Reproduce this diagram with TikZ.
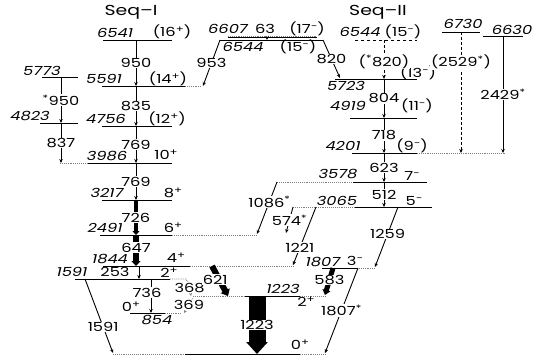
\documentclass[tikz,border=0pt]{standalone}
\usepackage{fontspec}
\setmainfont{Poppins}[FakeStretch=1.3]
\usetikzlibrary{arrows.meta}

% one level: name, y, x from, x to
\newcommand{\level}[4]{\coordinate (#1) at (0,#2); \draw[lev] (#3,#2) -- (#4,#2);}
% spin parity sign
\newcommand{\up}[1]{\raisebox{0.55ex}{\fontsize{9}{9}\selectfont #1}}

\tikzset{
  lev/.style={line width=0.9pt},
  levd/.style={gray,line width=0.9pt,densely dotted},
  tr/.style={line width=0.9pt,-{Stealth[length=4pt,width=3.5pt]}},
  trd/.style={tr,densely dashed},
  trs/.style={gray,line width=0.7pt,densely dotted,-{Stealth[length=3pt,width=3pt]}},
  lab/.style={fill=white,text=black,inner sep=0.6pt,font=\fontsize{12.5}{12.5}\selectfont},
  en/.style={inner sep=0pt,font=\fontsize{12.5}{12.5}\selectfont\itshape},
  jp/.style={inner sep=0pt,font=\fontsize{12.5}{12.5}\selectfont},
}

\begin{document}
\begin{tikzpicture}[x=1pt,y=-1pt]
  \useasboundingbox (0,0) rectangle (535,358);
  % columns
  \coordinate (cA) at (61,0);
  \coordinate (cI) at (136,0);
  \coordinate (cB) at (139,0);
  \coordinate (cC) at (151,0);
  \coordinate (cF) at (257,0);
  \coordinate (cG) at (267,0);
  \coordinate (cII) at (384,0);
  \coordinate (cD) at (461,0);
  \coordinate (cE) at (503,0);

  \node[jp,font=\fontsize{14.5}{14.5}\selectfont] (seqI) at (131,12) {Seq–I};
  \node[jp,font=\fontsize{14.5}{14.5}\selectfont] (seqII) at (378,12) {Seq–II};

  % Seq-I levels
  \level{l6541}{40}{103}{172}
  \level{l5591}{86}{102}{185} \draw[levd] (185,86) -- (202,86);
  \level{l5773}{77}{42}{78}
  \level{l4823}{123}{40}{78}
  \level{l4756}{126}{102}{172}
  \level{l3986}{163}{87}{172} \draw[levd] (60,163) -- (87,163);
  \level{l3217}{200}{102}{172}
  \level{l2491}{235}{100}{172} \draw[levd] (172,235) -- (257,235);
  \level{l1844}{266}{103}{190} \draw[levd] (190,266) -- (293,266);
  \level{l1591}{279}{75}{170} \draw[levd] (170,279) -- (186,279) -- (189,284);
  \level{l854}{313}{130}{165} \draw[levd] (165,313) -- (182,313);
  \level{l1223}{296}{245}{300} \draw[levd] (193,296) -- (245,296) (300,296) -- (325,296);
  \level{l0}{354}{185}{300} \draw[levd] (113,354) -- (185,354) (300,354) -- (325,354);

  % Seq-II levels
  \draw[levd] (228,36.5) -- (317,36.5);
  \level{l6607}{37.5}{228}{317}
  \level{l6544a}{40}{220}{323}
  \coordinate (l6544b) at (0,40); \draw[lev,dashed] (355,40) -- (417,40);
  \level{l6730}{32}{442}{480}
  \level{l6630}{36}{483}{523}
  \level{l5723}{79}{335}{417}
  \level{l4919}{118}{350}{417}
  \level{l4201}{153}{352}{417} \draw[levd] (417,153) -- (505,153);
  \level{l3578}{182}{353}{427} \draw[levd] (277,182) -- (353,182);
  \level{l3065}{207}{355}{432} \draw[levd] (293,207) -- (355,207);
  \level{l1807}{268}{322}{357} \draw[levd] (357,268) -- (375,268);

  % level energies
  \node[en] (e6541) at (115,33) {6541};
  \node[en] (e5591) at (104,79) {5591};
  \node[en] (e5773) at (42,71) {5773};
  \node[en] (e4823) at (30,116) {4823};
  \node[en] (e4756) at (106,119) {4756};
  \node[en] (e3986) at (107,156) {3986};
  \node[en] (e3217) at (107,193) {3217};
  \node[en] (e2491) at (105,228) {2491};
  \node[en] (e1844) at (110,259) {1844};
  \node[en] (e1591) at (72,272) {1591};
  \node[en] (e854) at (157,320) {854};
  \node[en] (e1223) at (283,289) {1223};
  \node[en] (e6607) at (228,29) {6607};
  \node[en] (e6544a) at (243,47) {6544};
  \node[en] (e6544b) at (360,32) {6544};
  \node[en] (e6730) at (463,24) {6730};
  \node[en] (e6630) at (512,30) {6630};
  \node[en] (e5723) at (346,86) {5723};
  \node[en] (e4919) at (348,106) {4919};
  \node[en] (e4201) at (343,146) {4201};
  \node[en] (e3578) at (338,174) {3578};
  \node[en] (e3065) at (337,201) {3065};
  \node[en] (e1807) at (323,262) {1807};

  % spins
  \node[jp] (j6541) at (172,32) {(16\up{+})};
  \node[jp] (j5591) at (168,79) {(14\up{+})};
  \node[jp] (j4756) at (167,119) {(12\up{+})};
  \node[jp] (j3986) at (166,155) {10\up{+}};
  \node[jp] (j3217) at (173,193) {8\up{+}};
  \node[jp] (j2491) at (173,228) {6\up{+}};
  \node[jp] (j1844) at (176,258) {4\up{+}};
  \node[jp] (j1591) at (169,273) {2\up{+}};
  \node[jp] (j854) at (131,307) {0\up{+}};
  \node[jp] (j1223) at (306,302) {2\up{+}};
  \node[jp] (j0) at (300,345) {0\up{+}};
  \node[jp] (j6607) at (307,29) {(17\up{−})};
  \node[jp] (j6544a) at (298,47) {(15\up{−})};
  \node[jp] (j6544b) at (403,32) {(15\up{−})};
  \node[jp] (j5723) at (418,73) {(13\up{−})};
  \node[jp] (j4919) at (417,106) {(11\up{−})};
  \node[jp] (j4201) at (412,146) {(9\up{−})};
  \node[jp] (j3578) at (412,176) {7\up{−}};
  \node[jp] (j3065) at (414,201) {5\up{−}};
  \node[jp] (j1807) at (355,261) {3\up{−}};
  \node[jp] (g63) at (265,29) {63};
  \node[jp] (g253) at (115,272) {253};

  % slanted transition ends
  \coordinate (a953) at (220,40);  \coordinate (b953) at (203,86);
  \coordinate (a820) at (323,40);  \coordinate (b820) at (340,78);
  \coordinate (a1086) at (277,182); \coordinate (b1086) at (257,234);
  \coordinate (a574) at (293,207); \coordinate (b574) at (286,233);
  \coordinate (a1221) at (316,207); \coordinate (b1221) at (293,265);
  \coordinate (a1259) at (398,207); \coordinate (b1259) at (375,267);
  \coordinate (a583) at (333,268); \coordinate (b583) at (325,295);
  \coordinate (a1807) at (358,268); \coordinate (b1807) at (325,353);
  \coordinate (a621) at (212,266); \coordinate (b621) at (228,296);
  \coordinate (a1591) at (85,279); \coordinate (b1591) at (113,353);
  \coordinate (a368) at (189,284); \coordinate (b368) at (191,296);
  \coordinate (a369) at (193,298); \coordinate (b369) at (184,313);

  % Seq-I transitions
  \draw[tr] (cI |- l6541) -- node[lab] {950} (cI |- l5591);
  \draw[tr] (a953) -- node[lab] {953} (b953);
  \draw[tr] (cI |- l5591) -- node[lab] {835} (cI |- l4756);
  \draw[tr] (cA |- l5773) -- node[lab] {\textsuperscript{*}950} (cA |- l4823);
  \draw[tr] (cA |- l4823) -- node[lab] {837} (cA |- l3986);
  \draw[tr] (cI |- l4756) -- node[lab] {769} (cI |- l3986);
  \draw[tr] (cI |- l3986) -- node[lab] {769} (cI |- l3217);
  \draw[line width=4pt,-{Triangle[length=4pt,width=7pt]}] (cI |- l3217) -- node[lab] {726} (cI |- l2491);
  \draw[line width=6pt,-{Triangle[length=5pt,width=9pt]}] (cI |- l2491) -- node[lab,pos=0.4] {647} (cI |- l1844);
  \draw[tr] (cB |- l1844) -- (cB |- l1591);
  \draw[tr] (cC |- l1591) -- node[lab,pos=0.4,xshift=-4pt] {736} (cC |- l854);
  \draw[trs] (a368) -- node[lab,pos=0.3] {368} (b368);
  \draw[trs] (a369) -- node[lab,pos=0.45] {369} (b369);
  \draw[line width=6pt,-{Triangle[length=6pt,width=10pt]}] (a621) -- node[lab,pos=0.45,xshift=-4pt] {621} (b621);
  \draw[tr] (a1591) -- node[lab,pos=0.65] {1591} (b1591);
  \draw[line width=17pt,-{Triangle[length=12pt,width=21pt]}] (cF |- l1223) -- node[lab] {1223} (cF |- l0);

  % Seq-II transitions
  \draw[tr] (cG |- l6607) -- (cG |- l6544a);
  \draw[tr] (a820) -- node[lab] {820} (b820);
  \draw[trd] (cII |- l6544b) -- node[lab,pos=0.55] {(\textsuperscript{*}820)} (cII |- l5723);
  \draw[tr] (cII |- l5723) -- node[lab] {804} (cII |- l4919);
  \draw[tr] (cII |- l4919) -- node[lab] {718} (cII |- l4201);
  \draw[tr] (cII |- l4201) -- node[lab] {623} (cII |- l3578);
  \draw[tr] (cII |- l3578) -- node[lab] {512} (cII |- l3065);
  \draw[trd] (cD |- l6730) -- node[lab,pos=0.25] {(2529\textsuperscript{*})} (cD |- l4201);
  \draw[tr] (cE |- l6630) -- node[lab] {2429\textsuperscript{*}} (cE |- l4201);
  \draw[tr] (a1086) -- node[lab,pos=0.38] {1086\textsuperscript{*}} (b1086);
  \draw[tr] (a574) -- node[lab] {574\textsuperscript{*}} (b574);
  \draw[tr] (a1221) -- node[lab,pos=0.7] {1221} (b1221);
  \draw[tr] (a1259) -- node[lab,pos=0.45] {1259} (b1259);
  \draw[line width=5pt,-{Triangle[length=5pt,width=8pt]}] (a583) -- node[lab,pos=0.45] {583} (b583);
  \draw[tr] (a1807) -- node[lab] {1807\textsuperscript{*}} (b1807);
\end{tikzpicture}
\end{document}
